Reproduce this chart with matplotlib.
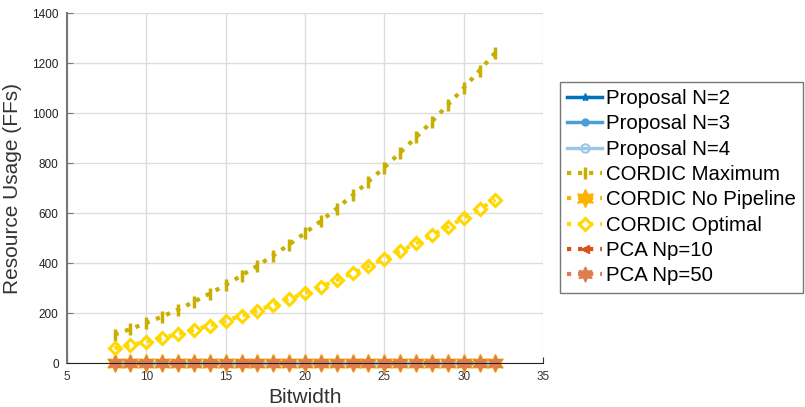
import matplotlib.pyplot as plt
import numpy as np

plt.rcParams['font.family'] = ['Liberation Sans', 'DejaVu Sans']

bitwidth = list(range(8, 33))

# FFs (bottom series sit at ~0)
proposal_n2 = [0] * 25
proposal_n3 = [0] * 25
proposal_n4 = [0] * 25
cordic_max = [114, 136, 160, 186, 214, 245, 278, 312, 350, 389, 430, 474, 520,
              568, 618, 671, 726, 782, 842, 903, 966, 1032, 1100, 1170, 1242]
cordic_nopipe = [0] * 25
cordic_opt = [59, 71, 85, 100, 116, 132, 150, 169, 189, 210, 233, 256, 280,
              305, 332, 359, 387, 417, 447, 479, 512, 545, 580, 616, 653]
pca_np10 = [0] * 25
pca_np50 = [0] * 25

labels = ["Proposal N=2", "Proposal N=3", "Proposal N=4", "CORDIC Maximum",
          "CORDIC No Pipeline", "CORDIC Optimal", "PCA Np=10", "PCA Np=50"]

fig = plt.figure(figsize=(8.05, 4.07), dpi=100)
ax = fig.add_axes([0.0832, 0.108, 0.5913, 0.860])

star6 = (6, 1, 0)
ax.plot(bitwidth, proposal_n2, '-', color='#0072BD', lw=2.5, marker='*', ms=6, label=labels[0], clip_on=False)
ax.plot(bitwidth, proposal_n3, '-', color='#4A9FD8', lw=2.5, marker='o', ms=5, label=labels[1], clip_on=False)
ax.plot(bitwidth, proposal_n4, '-', color='#9CC8E6', lw=2.5, marker='o', ms=6, mfc='none', mew=1.5, label=labels[2], clip_on=False)
ax.plot(bitwidth, cordic_max, ':', color='#C8B000', lw=3, marker='|', ms=8, mew=2.5, label=labels[3], clip_on=False)
ax.plot(bitwidth, cordic_nopipe, ':', color='#FFB300', lw=3, marker=star6, ms=13, label=labels[4], clip_on=False)
ax.plot(bitwidth, cordic_opt, ':', color='#FFD800', lw=3, marker='D', ms=6, mfc='none', mew=2.2, label=labels[5], clip_on=False)
ax.plot(bitwidth, pca_np10, ':', color='#D95319', lw=3, marker='<', ms=6, label=labels[6], clip_on=False)
ax.plot(bitwidth, pca_np50, ':', color='#DE7D4E', lw=3, marker=star6, ms=11, label=labels[7], clip_on=False)

ax.set_xlim(5, 35)
ax.set_ylim(0, 1400)
ax.set_xticks(range(5, 36, 5))
ax.set_yticks(range(0, 1401, 200))
ax.grid(True, color='#DDDDDD', lw=1)
ax.set_axisbelow(True)
for s in ['top', 'right']:
    ax.spines[s].set_visible(False)
ax.spines['left'].set_color('#777777')
ax.spines['left'].set_linewidth(1.5)
ax.spines['bottom'].set_color('#222222')
ax.tick_params(direction='in', labelsize=8.5, colors='#333333', length=4)
ax.tick_params(axis='y', colors='#777777', labelcolor='#222222', pad=6)
ax.tick_params(axis='x', pad=6)

ax.set_xlabel("Bitwidth", fontsize=15, color='#333333', labelpad=3)
ax.set_ylabel("Resource Usage (FFs)", fontsize=15, color='#333333', labelpad=7)

leg = fig.legend(loc='upper left', bbox_to_anchor=(560 / 805, 1 - 82 / 407),
                 fontsize=14.7, frameon=True, fancybox=False, borderaxespad=0,
                 handlelength=1.7, labelspacing=0.31, borderpad=0.35,
                 handletextpad=0.2)
leg.get_frame().set_edgecolor('#555555')
leg.get_frame().set_linewidth(1)

fig.savefig("out.png", dpi=100)
